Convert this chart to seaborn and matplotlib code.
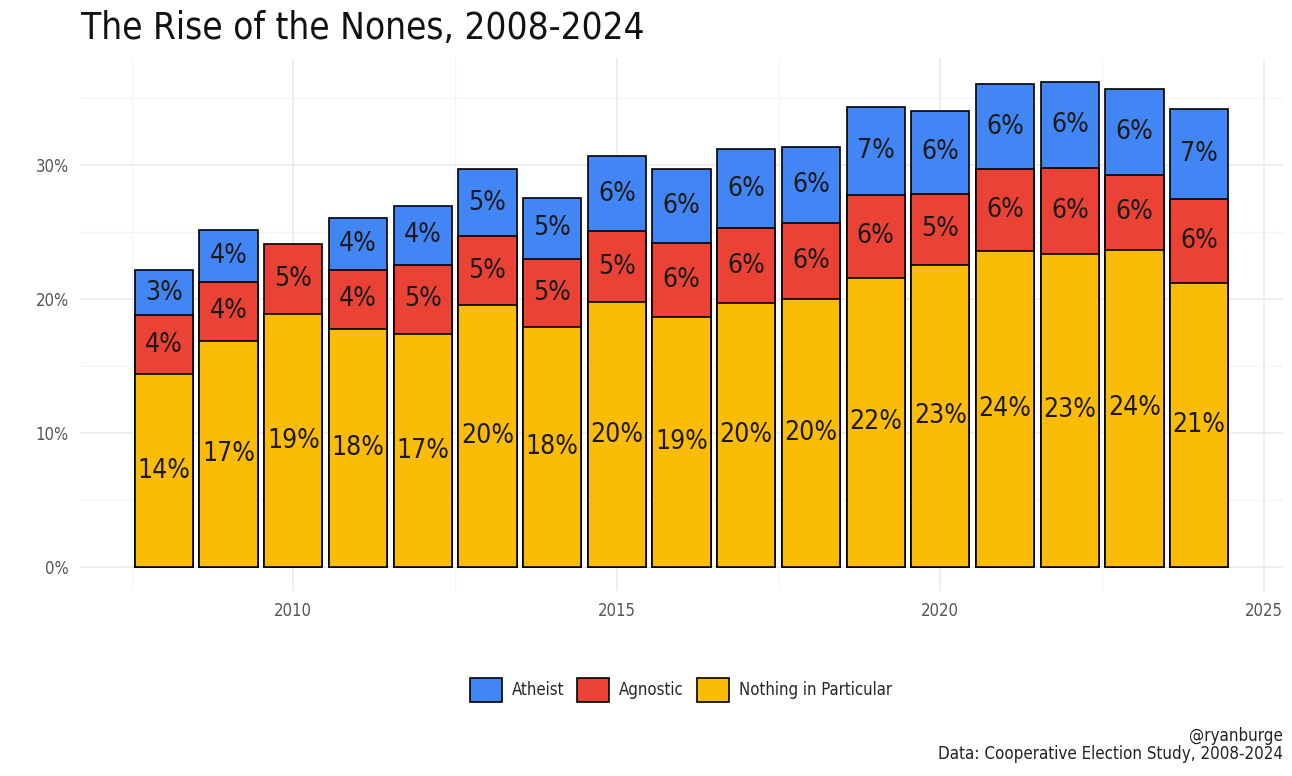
import numpy as np
import pandas as pd
import seaborn as sns
import matplotlib.pyplot as plt
from matplotlib.patches import Patch
from matplotlib.ticker import MultipleLocator, FuncFormatter

# values (percent of adults)
years = list(range(2008, 2025))
nothing = [14.4, 16.9, 18.9, 17.8, 17.4, 19.6, 17.9, 19.8, 18.7, 19.7, 20.0, 21.6, 22.6, 23.6, 23.4, 23.7, 21.2]
agnostic = [4.4, 4.4, 5.2, 4.4, 5.2, 5.1, 5.1, 5.3, 5.5, 5.6, 5.7, 6.2, 5.3, 6.1, 6.4, 5.6, 6.3]
atheist = [3.4, 3.9, np.nan, 3.9, 4.4, 5.0, 4.6, 5.6, 5.5, 5.9, 5.7, 6.6, 6.2, 6.4, 6.4, 6.4, 6.7]

groups = ["Atheist", "Agnostic", "Nothing in Particular"]
colors = {"Atheist": "#4285F4", "Agnostic": "#EA4335", "Nothing in Particular": "#FBBC05"}

title = "The Rise of the Nones, 2008-2024"
caption = "@ryanburge\nData: Cooperative Election Study, 2008-2024"

df = pd.DataFrame({"year": years, "Nothing in Particular": nothing,
                   "Agnostic": agnostic, "Atheist": atheist})
df["agn_top"] = df["Nothing in Particular"] + df["Agnostic"]
df["ath_top"] = df["agn_top"] + df["Atheist"]

sns.set_theme(style="white")
plt.rcParams["font.family"] = ["DejaVu Sans Condensed", "DejaVu Sans"]
plt.rcParams["font.stretch"] = "condensed"

fig = plt.figure(figsize=(12.92, 7.76), dpi=100)
ax = fig.add_axes([0.062, 0.238, 0.931, 0.687])

# stacked bars drawn as cumulative layers, tallest first
layers = [("ath_top", "Atheist"), ("agn_top", "Agnostic"), ("Nothing in Particular", "Nothing in Particular")]
for col, name in layers:
    sub = df.dropna(subset=[col])
    sns.barplot(data=sub, x="year", y=col, native_scale=True, color=colors[name],
                saturation=1, edgecolor="black", linewidth=1.2, width=0.9,
                errorbar=None, ax=ax, zorder=3)

# segment labels
bottoms = {"Nothing in Particular": np.zeros(len(df)),
           "Agnostic": df["Nothing in Particular"].values,
           "Atheist": df["agn_top"].values}
for name in groups:
    vals = df[name].values
    for yr, b, v in zip(df["year"], bottoms[name], vals):
        if np.isnan(v):
            continue
        ax.text(yr, b + v / 2, f"{v:.0f}%", ha="center", va="center",
                fontsize=19, color="#1a1a1a", zorder=4)

# axes limits with ggplot-like 5% expansion
x0, x1 = min(years) - 0.45, max(years) + 0.45
xpad = (x1 - x0) * 0.05
ax.set_xlim(x0 - xpad, x1 + xpad)
ytop = np.nanmax(df["ath_top"])
ax.set_ylim(-ytop * 0.05, ytop * 1.05)

ax.xaxis.set_major_locator(MultipleLocator(5))
ax.xaxis.set_minor_locator(MultipleLocator(2.5))
ax.yaxis.set_major_locator(MultipleLocator(10))
ax.yaxis.set_minor_locator(MultipleLocator(5))
ax.yaxis.set_major_formatter(FuncFormatter(lambda v, p: f"{v:.0f}%"))
ax.xaxis.set_major_formatter(FuncFormatter(lambda v, p: f"{v:.0f}"))

ax.grid(which="major", color="#ebebeb", linewidth=1.2, zorder=0)
ax.grid(which="minor", color="#f3f3f3", linewidth=0.9, zorder=0)
ax.set_axisbelow(True)
for s in ax.spines.values():
    s.set_visible(False)
ax.tick_params(which="both", length=0, labelsize=12, labelcolor="#555555", pad=8)
ax.set_xlabel("")
ax.set_ylabel("")

handles = [Patch(facecolor=colors[g], edgecolor="black", linewidth=1.2, label=g) for g in groups]
fig.legend(handles=handles, loc="center", bbox_to_anchor=(0.527, 0.111), ncol=3,
           frameon=False, fontsize=12, handlelength=1.9, handleheight=1.9,
           handletextpad=0.6, columnspacing=0.8)

fig.text(0.063, 0.963, title, fontsize=26.5, ha="left", va="center", color="#111111")
fig.text(0.993, 0.040, caption, fontsize=12.2, ha="right", va="center",
         color="#222222", linespacing=1.05)

fig.savefig("out.png", dpi=100)
